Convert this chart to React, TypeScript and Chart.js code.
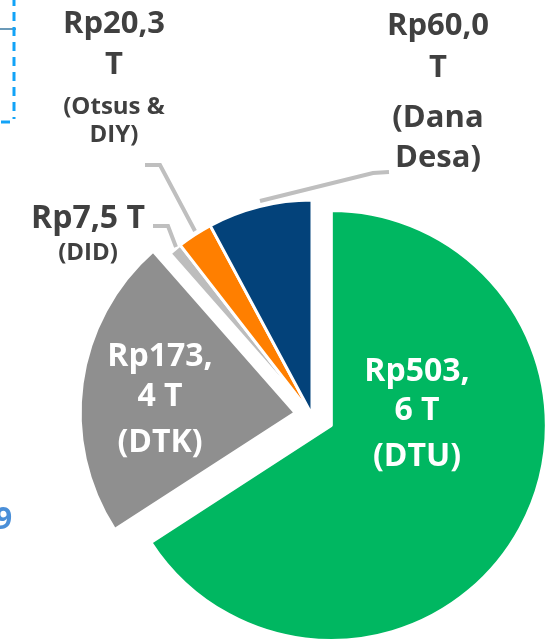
import React, { useEffect, useRef } from 'react';
import { Chart, registerables } from 'chart.js';

Chart.register(...registerables);

// ---- data ----
const categories = ['DTU', 'DTK', 'DID', 'Otsus & DIY', 'Dana Desa'];
const values = [503.6, 173.4, 7.5, 20.3, 60.0];
const colors = ['#00B761', '#8F8F8F', '#BDBDBD', '#FF7F00', '#03427A'];
// slice explosion distance (px)
const explode = [22, 17, 0, 0, 0];

const fmt = (v: number) => 'Rp' + v.toFixed(1).replace('.', ',') + ' T';

function splitValue(s: string, mode: string): string[] {
  if (mode === 'comma') {
    const k = s.indexOf(',') + 1;
    return [s.slice(0, k), s.slice(k)];
  }
  if (mode === 'T') return [s.slice(0, s.length - 2), 'T'];
  return [s];
}
function splitCat(c: string, mode: string): string[] {
  const s = '(' + c + ')';
  if (mode === 'space') {
    const k = s.lastIndexOf(' ');
    return [s.slice(0, k), s.slice(k + 1)];
  }
  return [s];
}

// ---- label layout (positions / styles) ----
type LabelLayout = {
  i: number; x: number; color: string; vMode: string; cMode: string;
  vSize: number; cSize: number; baselines: number[];
};
const labelLayout: LabelLayout[] = [
  { i: 0, x: 417, color: '#FFFFFF', vMode: 'comma', cMode: 'none', vSize: 32, cSize: 32, baselines: [381, 420, 466] },
  { i: 1, x: 160, color: '#FFFFFF', vMode: 'comma', cMode: 'none', vSize: 32, cSize: 32, baselines: [366, 406, 452] },
  { i: 2, x: 88, color: '#404040', vMode: 'none', cMode: 'none', vSize: 32, cSize: 24, baselines: [228, 260] },
  { i: 3, x: 114, color: '#404040', vMode: 'T', cMode: 'space', vSize: 31, cSize: 24, baselines: [33, 74, 114, 142] },
  { i: 4, x: 438, color: '#404040', vMode: 'T', cMode: 'space', vSize: 31, cSize: 31, baselines: [35, 77, 127, 167] },
];

const leaderLines: number[][][] = [
  [[145, 165], [160, 165], [195, 231]],
  [[153, 226], [168, 226], [176, 247]],
  [[389, 172], [373, 173], [260, 201]],
];

const FONT = '"Open Sans", "Noto Sans", sans-serif';

const explodePlugin = {
  id: 'explode',
  afterDatasetUpdate(chart: any, args: any) {
    const meta = chart.getDatasetMeta(args.index);
    meta.data.forEach((arc: any, k: number) => {
      const d = explode[k] || 0;
      if (!d) return;
      const mid = (arc.startAngle + arc.endAngle) / 2;
      arc.x += Math.cos(mid) * d;
      arc.y += Math.sin(mid) * d;
    });
  },
};

const decorPlugin = {
  id: 'decor',
  afterDatasetsDraw(chart: any) {
    const ctx = chart.ctx as CanvasRenderingContext2D;
    ctx.save();
    // leader lines
    ctx.strokeStyle = '#BFBFBF';
    ctx.lineWidth = 4;
    ctx.lineJoin = 'miter';
    ctx.lineCap = 'butt';
    for (const pts of leaderLines) {
      ctx.beginPath();
      pts.forEach((p, k) => (k === 0 ? ctx.moveTo(p[0], p[1]) : ctx.lineTo(p[0], p[1])));
      ctx.stroke();
    }
    // labels
    ctx.textAlign = 'center';
    ctx.textBaseline = 'alphabetic';
    for (const L of labelLayout) {
      const vLines = splitValue(fmt(values[L.i]), L.vMode);
      const cLines = splitCat(categories[L.i], L.cMode);
      ctx.fillStyle = L.color;
      let b = 0;
      for (const t of vLines) {
        ctx.font = `bold ${L.vSize}px ${FONT}`;
        ctx.fillText(t, L.x, L.baselines[b++]);
      }
      for (const t of cLines) {
        ctx.font = `bold ${L.cSize}px ${FONT}`;
        ctx.fillText(t, L.x, L.baselines[b++]);
      }
    }
    // cut-off neighbour elements at the left edge
    ctx.strokeStyle = '#6B9AB8';
    ctx.lineWidth = 2;
    ctx.beginPath();
    ctx.moveTo(0, 29);
    ctx.lineTo(16, 29);
    ctx.stroke();
    ctx.strokeStyle = '#12A3F7';
    ctx.lineWidth = 3;
    ctx.setLineDash([9, 6]);
    ctx.beginPath();
    ctx.moveTo(14, -3);
    ctx.lineTo(14, 119);
    ctx.stroke();
    ctx.beginPath();
    ctx.moveTo(10, 122);
    ctx.lineTo(0, 122);
    ctx.stroke();
    ctx.setLineDash([]);
    ctx.fillStyle = '#4A8FD8';
    ctx.font = `bold 30px ${FONT}`;
    ctx.textAlign = 'left';
    ctx.fillText('9', -5, 529);
    ctx.restore();
  },
};

export default function App() {
  const ref = useRef<HTMLCanvasElement | null>(null);
  useEffect(() => {
    if (!ref.current) return;
    const chart = new Chart(ref.current, {
      type: 'pie',
      data: {
        labels: categories,
        datasets: [
          {
            data: values,
            backgroundColor: colors,
            borderColor: '#FFFFFF',
            borderWidth: 3,
            hoverOffset: 0,
            clip: false as any,
          },
        ],
      },
      options: {
        responsive: false,
        maintainAspectRatio: false,
        animation: false,
        events: [],
        radius: 215,
        layout: { padding: { left: 68, right: 0, top: 187, bottom: 0 } },
        plugins: {
          legend: { display: false },
          tooltip: { enabled: false },
        },
      } as any,
      plugins: [explodePlugin, decorPlugin],
    });
    return () => chart.destroy();
  }, []);
  return (
    <div style={{ position: 'fixed', left: 0, top: 0, width: 556, height: 643, background: '#FFFFFF' }}>
      <canvas ref={ref} width={556} height={643} style={{ width: 556, height: 643, display: 'block' }} />
    </div>
  );
}
